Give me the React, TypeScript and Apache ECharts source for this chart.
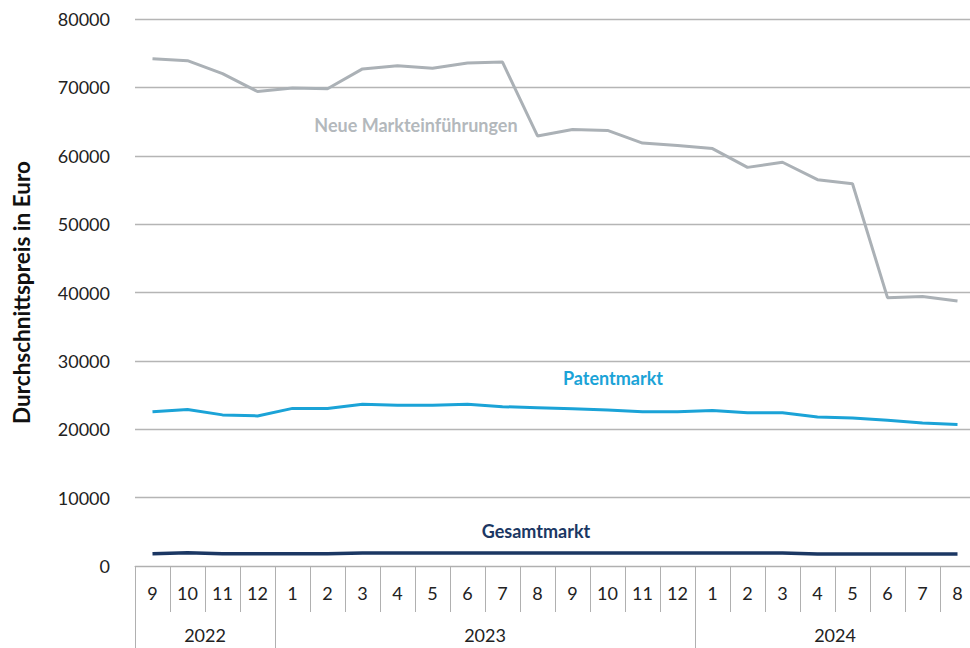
import React, { useEffect, useRef } from "react";
import * as echarts from "echarts";

const months = ["9", "10", "11", "12", "1", "2", "3", "4", "5", "6", "7", "8", "9", "10", "11", "12", "1", "2", "3", "4", "5", "6", "7", "8"];
const yearSlots = ["", "", "2022", "", "", "", "", "", "", "", "2023", "", "", "", "", "", "", "", "", "", "2024", "", "", "", ""];
const yearBoundaries = [0, 4, 16, 24];

const neueMarkt = [74200, 73900, 72000, 69400, 69900, 69800, 72700, 73150, 72800, 73550, 73700, 62900, 63850, 63700, 61850, 61500, 61050, 58300, 59050, 56500, 55900, 39250, 39400, 38750];
const patentMarkt = [22550, 22900, 22100, 21950, 23050, 23050, 23650, 23500, 23500, 23650, 23300, 23150, 23000, 22800, 22550, 22550, 22750, 22400, 22400, 21800, 21650, 21300, 20900, 20700];
const gesamtMarkt = [1800, 1950, 1800, 1800, 1800, 1800, 1900, 1900, 1900, 1900, 1900, 1900, 1900, 1900, 1900, 1900, 1900, 1900, 1900, 1750, 1750, 1750, 1750, 1750];

const FONT = "Lato";

export default function App() {
  const ref = useRef<HTMLDivElement>(null);

  useEffect(() => {
    document.body.style.margin = "0";
    if (!ref.current) return;
    const chart = echarts.init(ref.current, undefined, { renderer: "svg" });
    chart.setOption({
      animation: false,
      backgroundColor: "#ffffff",
      textStyle: { fontFamily: FONT },
      grid: { left: 135, top: 19, width: 840, height: 547, outerBoundsMode: "none", containLabel: false },
      xAxis: [
        {
          type: "category",
          data: months,
          position: "bottom",
          boundaryGap: true,
          axisLine: { show: true, lineStyle: { color: "#b0b0b0", width: 1 } },
          axisTick: { show: true, interval: 0, length: 46, lineStyle: { color: "#b0b0b0" } },
          axisLabel: { interval: 0, margin: 18, fontSize: 18, color: "#222222", fontFamily: FONT },
          splitLine: { show: false },
        },
        {
          type: "category",
          data: yearSlots,
          position: "bottom",
          boundaryGap: false,
          axisLine: { show: false },
          axisTick: {
            show: true,
            length: 82,
            interval: (index: number) => yearBoundaries.includes(index),
            lineStyle: { color: "#b0b0b0" },
          },
          axisLabel: { interval: 0, margin: 60, fontSize: 18, color: "#222222", fontFamily: FONT },
          splitLine: { show: false },
        },
      ],
      yAxis: {
        type: "value",
        min: 0,
        max: 80000,
        interval: 10000,
        name: "Durchschnittspreis in Euro",
        nameLocation: "middle",
        nameGap: 102,
        nameTextStyle: { fontSize: 22.5, fontWeight: "bold", color: "#111111", fontFamily: FONT },
        axisLine: { show: false },
        axisTick: { show: false },
        axisLabel: { margin: 25, fontSize: 18, color: "#222222", fontFamily: FONT, formatter: (v: number) => String(v) },
        splitLine: { lineStyle: { color: "#b5b5b5", width: 1.3 } },
      },
      series: [
        {
          name: "Neue Markteinführungen",
          type: "line",
          xAxisIndex: 0,
          data: neueMarkt,
          symbol: "none",
          lineStyle: { color: "#abb1b6", width: 3 },
          itemStyle: { color: "#abb1b6" },
        },
        {
          name: "Patentmarkt",
          type: "line",
          xAxisIndex: 0,
          data: patentMarkt,
          symbol: "none",
          lineStyle: { color: "#1ba3d7", width: 3 },
          itemStyle: { color: "#1ba3d7" },
        },
        {
          name: "Gesamtmarkt",
          type: "line",
          xAxisIndex: 0,
          data: gesamtMarkt,
          symbol: "none",
          lineStyle: { color: "#1b3763", width: 3.5 },
          itemStyle: { color: "#1b3763" },
        },
      ],
      graphic: [
        {
          type: "text",
          x: 416,
          y: 125,
          style: { text: "Neue Markteinführungen", fill: "#b3b8bc", font: `bold 18px ${FONT}`, align: "center", verticalAlign: "middle" },
        },
        {
          type: "text",
          x: 613,
          y: 378,
          style: { text: "Patentmarkt", fill: "#1ba3d7", font: `bold 18px ${FONT}`, align: "center", verticalAlign: "middle" },
        },
        {
          type: "text",
          x: 536,
          y: 531,
          style: { text: "Gesamtmarkt", fill: "#1b3763", font: `bold 18px ${FONT}`, align: "center", verticalAlign: "middle" },
        },
      ],
    });
    return () => chart.dispose();
  }, []);

  return <div ref={ref} style={{ width: 970, height: 648 }} />;
}
